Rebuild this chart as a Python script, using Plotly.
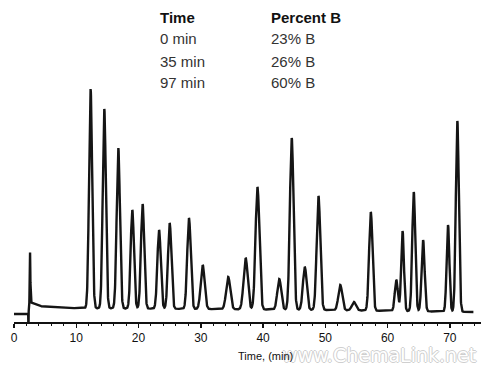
import numpy as np
import plotly.graph_objects as go

# Peak table (retention time in min, apex height above axis, width sigma in min)
peak_times = [12.3, 14.5, 16.75, 19.0, 20.65, 23.3, 25.0, 28.1, 30.3, 34.4, 37.2, 39.1,
              42.6, 44.6, 46.7, 48.9, 52.4, 54.6, 57.3, 61.4, 62.4, 64.2, 65.7, 69.7, 71.2]
peak_heights = [233, 213, 174, 112, 118, 92, 99, 104, 57, 45, 64, 135,
                43, 184, 55, 126, 37, 20, 110, 42, 91, 130, 82, 97, 201]
peak_sigmas = [0.25, 0.25, 0.26, 0.26, 0.26, 0.27, 0.27, 0.28, 0.31, 0.33, 0.33, 0.31,
               0.31, 0.29, 0.3, 0.29, 0.31, 0.33, 0.27, 0.24, 0.22, 0.24, 0.24, 0.22, 0.24]

# Solvent front
front_time = 2.57
front_height = 70
dip_time = 2.3

# Baseline levels (min, level)
base_times = [0.0, 2.29, 2.6, 4.0, 8.0, 30.0, 50.0, 73.8]
base_levels = [8, 8, 20, 16, 14, 13, 12, 10]

tick_vals = [0, 10, 20, 30, 40, 50, 60, 70]
gradient_time = ["0 min", "35 min", "97 min"]
gradient_pct = ["23% B", "26% B", "60% B"]

t = np.round(np.arange(0, 73.8, 0.02), 3)
base = np.interp(t, base_times, base_levels)
sig = base.copy()
for rt, h, s in zip(peak_times, peak_heights, peak_sigmas):
    lvl = np.interp(rt, base_times, base_levels)
    sig += (h - lvl) * np.exp(-0.5 * ((t - rt) / s) ** 2)
lvl_f = np.interp(front_time, base_times, base_levels)
sig += (front_height - lvl_f) * np.exp(-0.5 * ((t - front_time) / 0.05) ** 2)
sig[(t >= dip_time) & (t < dip_time + 0.06)] = 0

fig = go.Figure()
fig.add_trace(go.Scatter(x=t, y=sig, mode="lines",
                         line=dict(color="#151515", width=2.4), hoverinfo="skip"))

L, R, T, B = 14, 8, 82, 49
W, H = 489, 371
pw, ph = W - L - R, H - T - B

def px(x):
    return (x - L) / pw

def py(y):
    return (H - B - y) / ph

annotations = []
annotations.append(dict(x=px(158), y=py(17), xref="paper", yref="paper", text="<b>Time</b>",
                        showarrow=False, xanchor="left", yanchor="middle",
                        font=dict(family="Liberation Sans, Arial", size=15, color="#111")))
annotations.append(dict(x=px(269), y=py(17), xref="paper", yref="paper", text="<b>Percent B</b>",
                        showarrow=False, xanchor="left", yanchor="middle",
                        font=dict(family="Liberation Sans, Arial", size=15, color="#111")))
for i, (a, b) in enumerate(zip(gradient_time, gradient_pct)):
    yy = [39, 61, 82][i]
    annotations.append(dict(x=px(158), y=py(yy), xref="paper", yref="paper", text=a,
                            showarrow=False, xanchor="left", yanchor="middle",
                            font=dict(family="Liberation Sans, Arial", size=15, color="#333")))
    annotations.append(dict(x=px(269), y=py(yy), xref="paper", yref="paper", text=b,
                            showarrow=False, xanchor="left", yanchor="middle",
                            font=dict(family="Liberation Sans, Arial", size=15, color="#333")))
wm = "#cfcfcf"
annotations.append(dict(x=px(478), y=py(355), xref="paper", yref="paper",
                        text="www.ChemaLink.net", showarrow=False, xanchor="right", yanchor="middle",
                        font=dict(family="DejaVu Sans", size=19, color="white",
                                  shadow=f"-1px 0 {wm}, 1px 0 {wm}, 0 -1px {wm}, 0 1px {wm}")))
annotations.append(dict(x=px(265), y=py(356), xref="paper", yref="paper", text="Time, (min)",
                        showarrow=False, xanchor="center", yanchor="middle",
                        font=dict(family="Liberation Sans, Arial", size=11, color="#111")))

fig.update_layout(
    width=W, height=H, margin=dict(l=L, r=R, t=T, b=B, autoexpand=False),
    paper_bgcolor="white", plot_bgcolor="white", showlegend=False,
    annotations=annotations,
    xaxis=dict(range=[0, 75], showgrid=False, zeroline=False, showline=True, automargin=False,
               linecolor="#111", linewidth=1.5, ticks="outside", ticklen=4,
               tickcolor="#111", tickwidth=1.5, tickvals=tick_vals,
               tickfont=dict(family="Liberation Sans, Arial", size=12, color="#111"),
               minor=dict(ticks="outside", ticklen=2, dtick=2, tick0=0, tickcolor="#111", tickwidth=1)),
    yaxis=dict(range=[0, 240], visible=False, automargin=False),
)

fig.write_html("out.html", config={"displayModeBar": False, "staticPlot": True},
               post_script="document.body.style.margin='0';document.body.style.overflow='hidden';")
